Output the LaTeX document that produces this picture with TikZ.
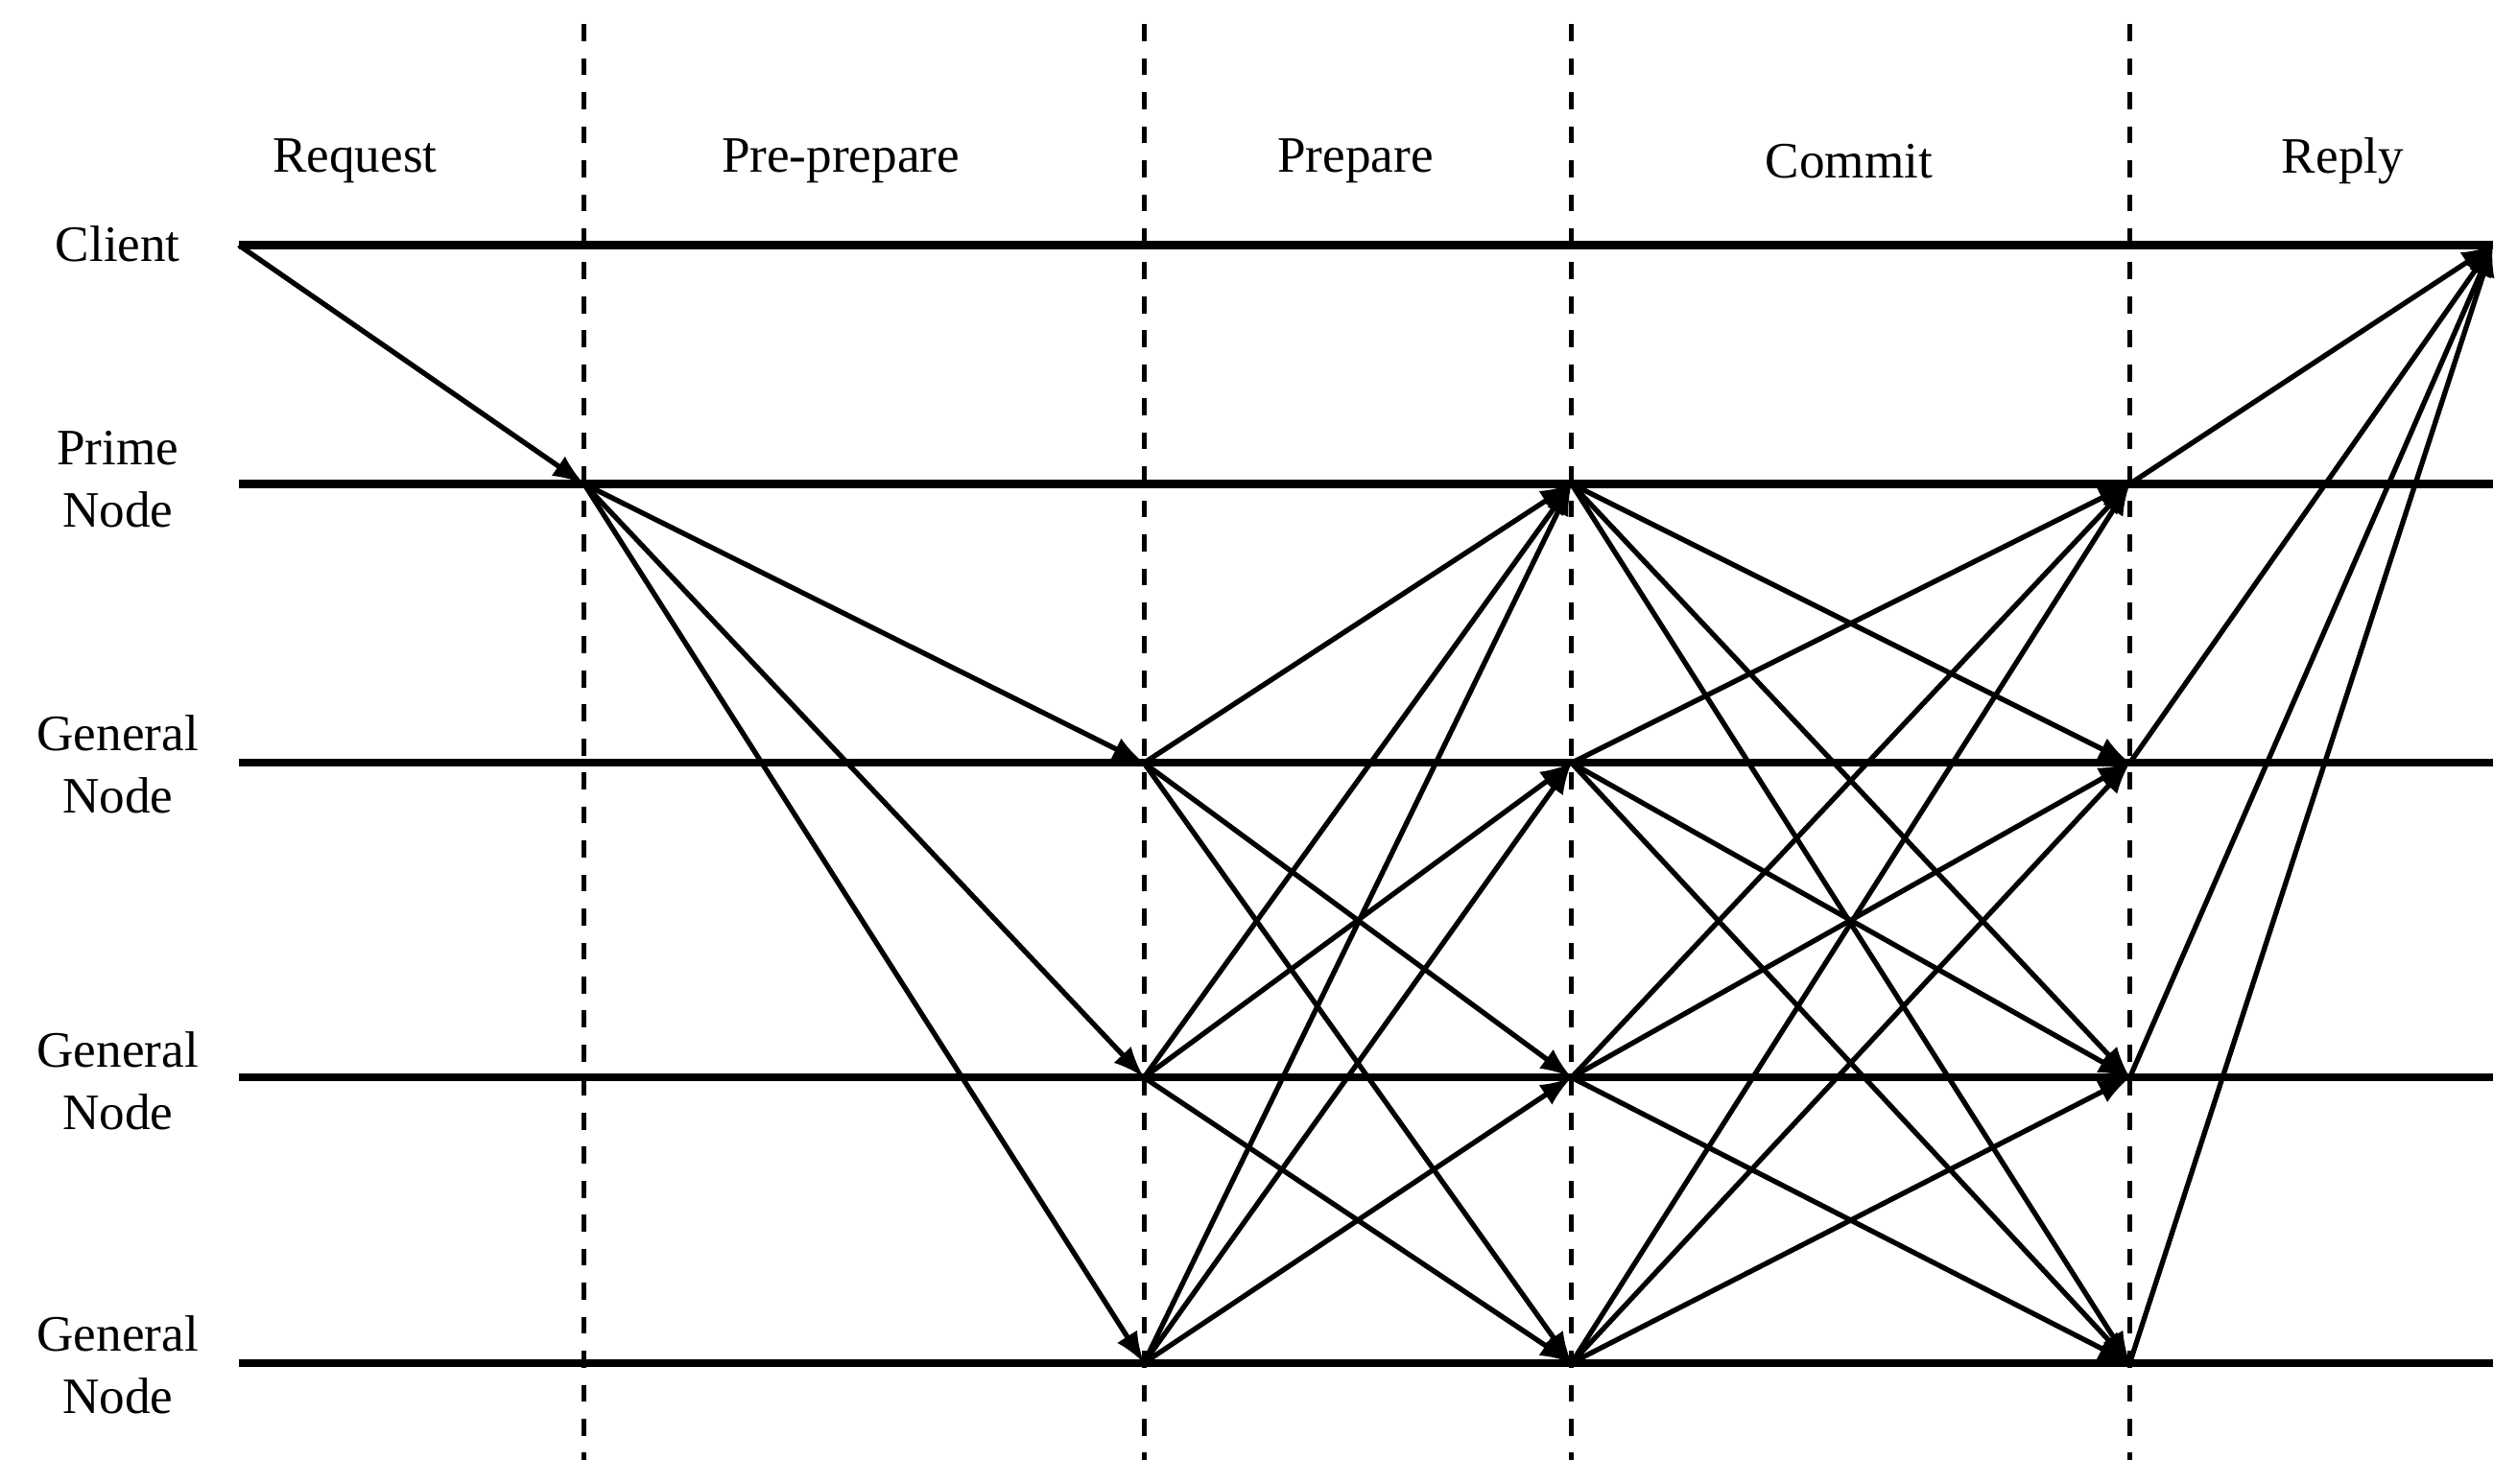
\documentclass[tikz,border=0pt]{standalone}
\usepackage{fontspec}
\setmainfont{Liberation Serif}
\usetikzlibrary{positioning,arrows}

\begin{document}
\begin{tikzpicture}[lane/.style={line width=1.4pt}, phase/.style={dashed, line width=0.8pt}, msg/.style={-latex, line width=0.9pt}, lbl/.style={font=\fontsize{9}{11}\selectfont, align=center}]
\useasboundingbox (0,0) rectangle (15.6,9.2);

% LANES

\node [lbl] (ctitle) at (0.73,7.69) {Client};
\node [lbl] (ptitle) at (0.73,6.23) {Prime\\Node};
\node [lbl] (g1title) at (0.73,4.46) {General\\Node};
\node [lbl] (g2title) at (0.73,2.50) {General\\Node};
\node [lbl] (g3title) at (0.73,0.74) {General\\Node};

\foreach \n/\y in {0/7.68, 1/6.20, 2/4.47, 3/2.52, 4/0.75}
{
\coordinate (l\n-a) at (1.48,\y);
\coordinate (l\n-z) at (15.45,\y);
\foreach \col/\x in {b/3.62, d/7.09, e/9.74, f/13.20}
  {\coordinate (l\n-\col) at (\x,\y);}
\draw[lane] (l\n-a) -- (l\n-z);
}

% PHASES

\foreach \col/\x in {b/3.62, d/7.09, e/9.74, f/13.20}
{
\coordinate (\col top) at (\x,9.05);
\coordinate (\col bot) at (\x,0.15);
\draw[phase] (\col top) -- (\col bot);
}

\node [lbl] (request) at (2.20,8.20) {Request};
\node [lbl] (preprepare) at (5.21,8.20) {Pre-prepare};
\node [lbl] (prepare) at (8.40,8.20) {Prepare};
\node [lbl] (commit) at (11.46,8.20) {Commit};
\node [lbl] (reply) at (14.52,8.20) {Reply};

% MESSAGES

\draw[msg] (l0-a) -- (l1-b);

\foreach \j in {2,3,4}
  {\draw[msg] (l1-b) -- (l\j-d);}

\foreach \i in {2,3,4}
  {\foreach \j in {1,2,3,4}
    {\ifnum\i=\j\relax\else\draw[msg] (l\i-d) -- (l\j-e);\fi}}

\foreach \i in {1,2,3,4}
  {\foreach \j in {1,2,3,4}
    {\ifnum\i=\j\relax\else\draw[msg] (l\i-e) -- (l\j-f);\fi}}

\foreach \i in {1,2,3,4}
  {\draw[msg] (l\i-f) -- (l0-z);}

\end{tikzpicture}
\end{document}
